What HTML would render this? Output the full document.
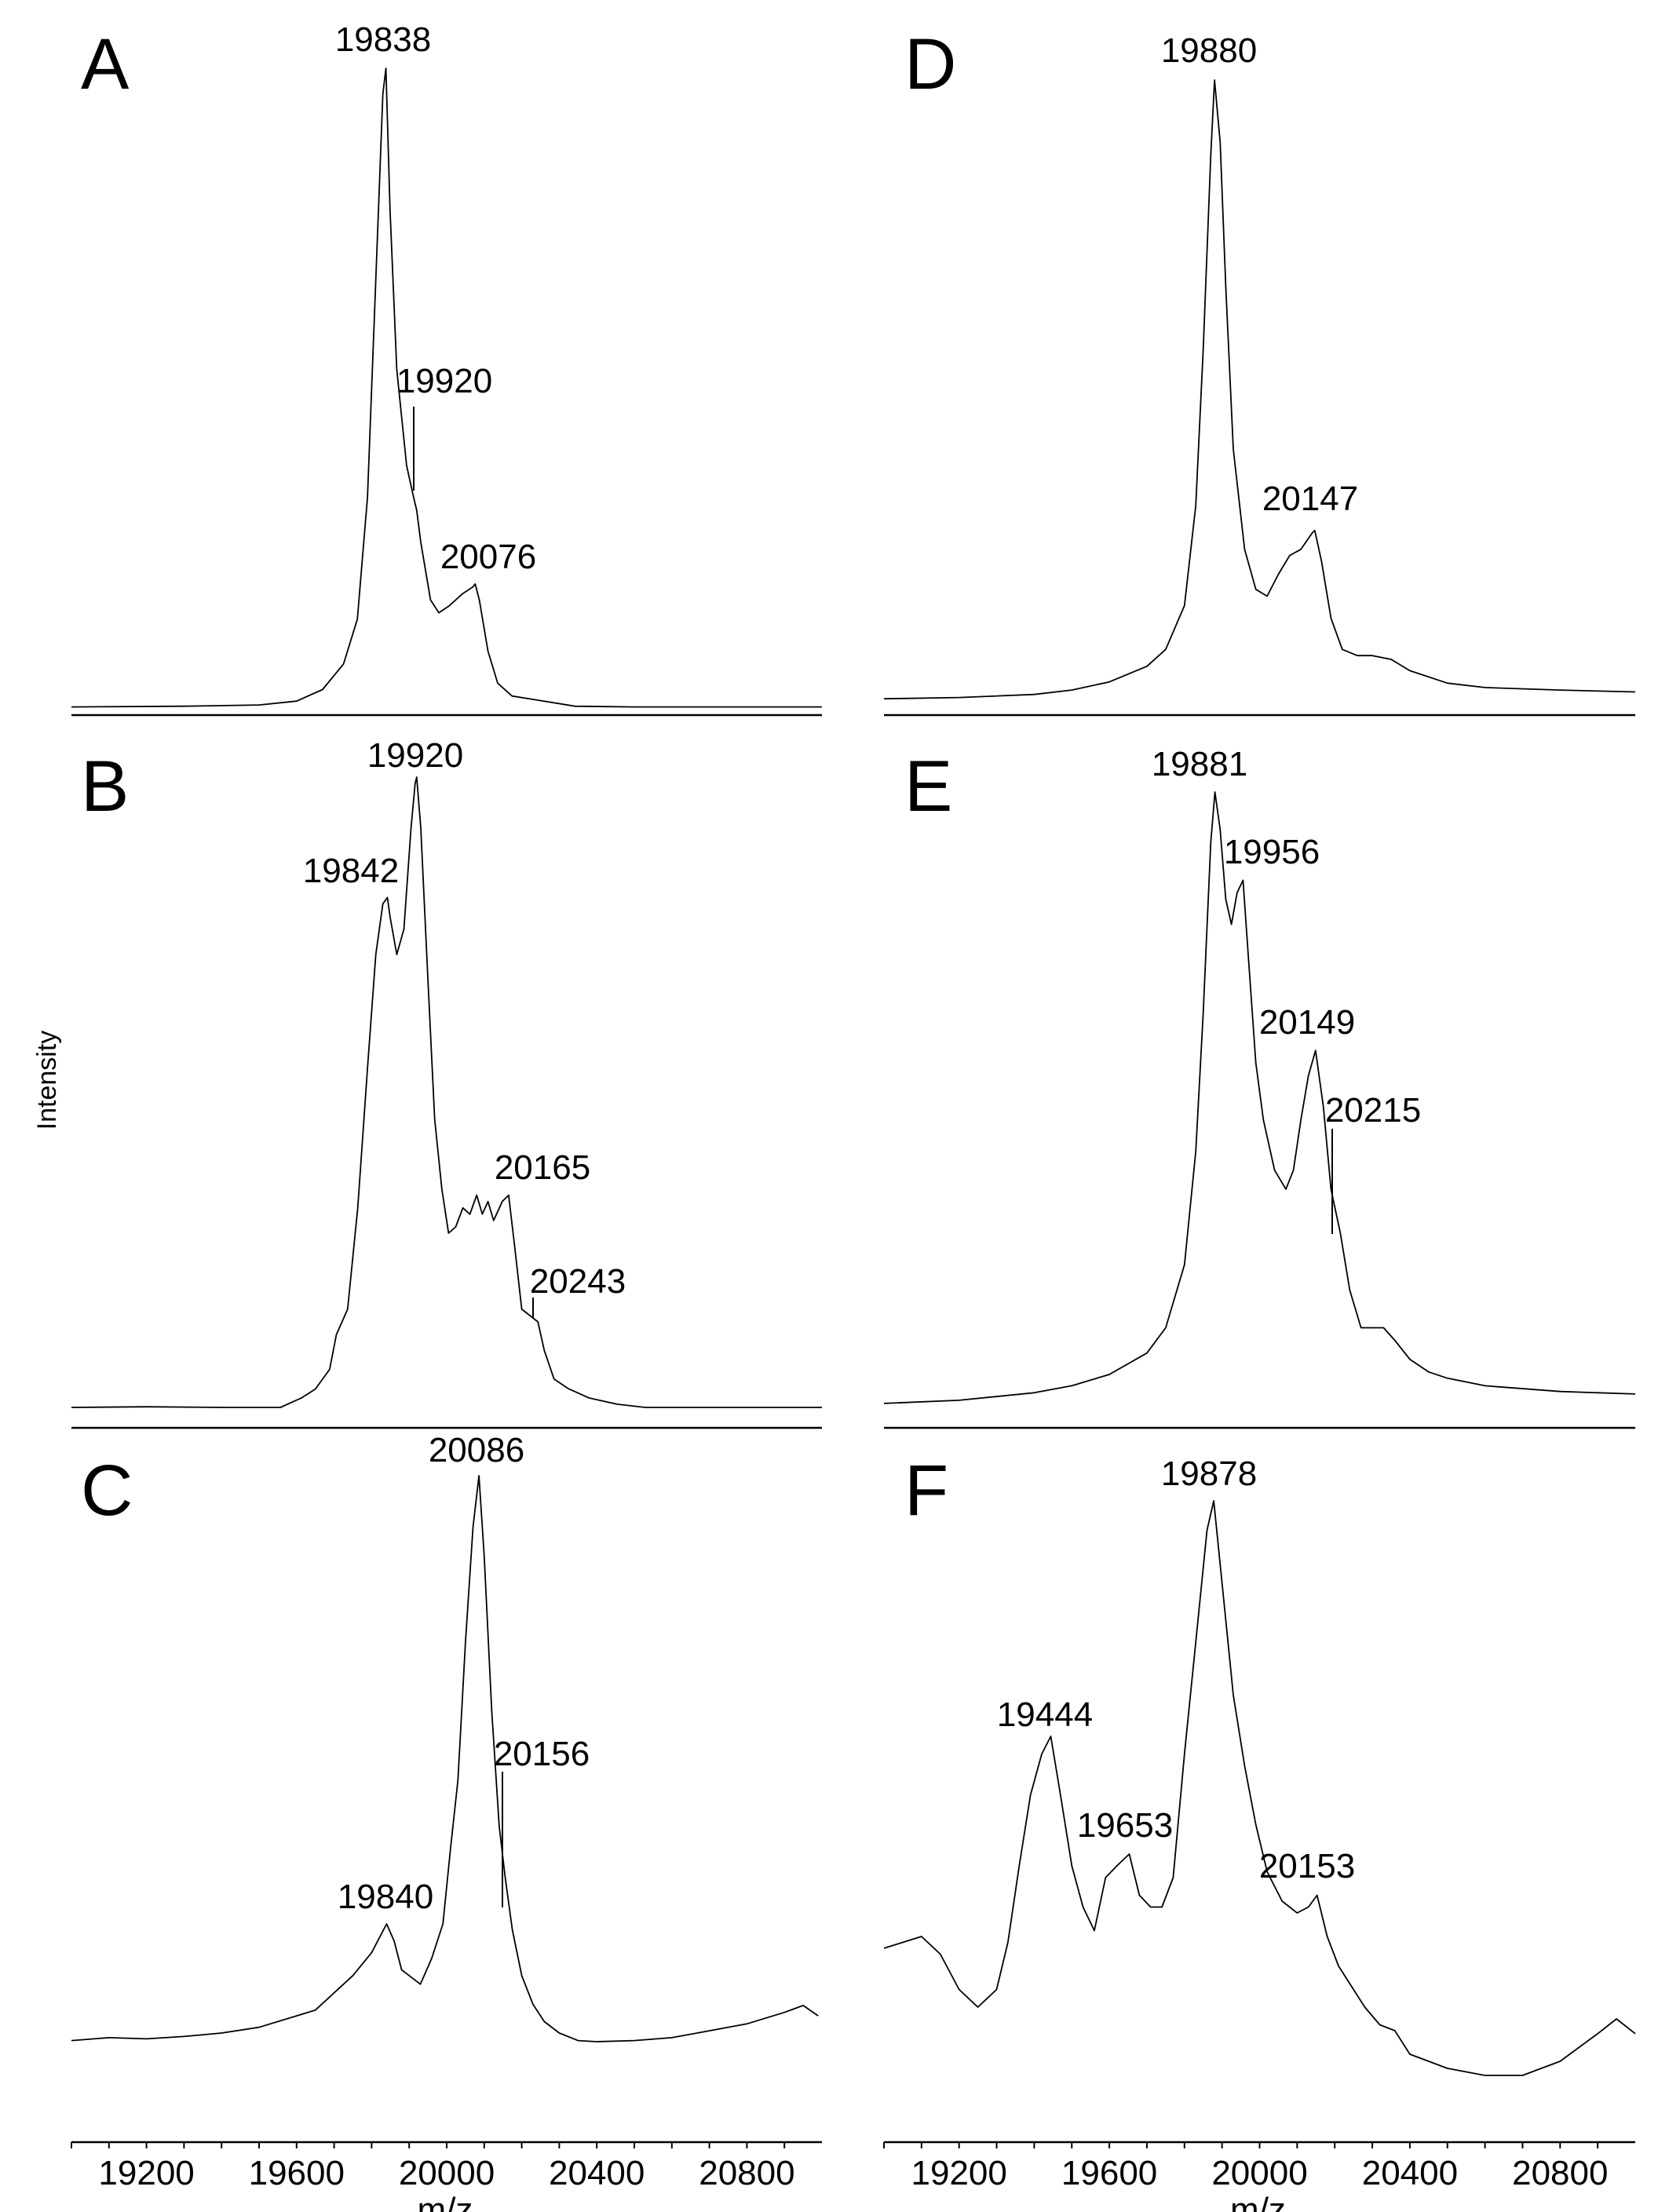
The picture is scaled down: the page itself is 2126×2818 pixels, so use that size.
<!DOCTYPE html>
<html><head><meta charset="utf-8"><style>
html,body{margin:0;padding:0;background:#fff}
svg{display:block}
text{font-family:"Liberation Sans",Arial,sans-serif;fill:#000}
</style></head><body>
<svg id="fig" width="2126" height="2818" viewBox="0 0 2126 2818" xmlns="http://www.w3.org/2000/svg"></svg>
<script>
const tickLabels = ["19200","19600","20000","20400","20800"];
const tickValues = [19200,19600,20000,20400,20800];
const mzA=[19000,19300,19500,19600,19669,19725,19762,19789,19811,19830,19838,19849,19867,19893,19912,19920,19931,19957,19979,20005,20043,20069,20076,20087,20110,20136,20174,20248,20342,20500,20700,21000];
const inA=[0.3,0.4,0.6,1.2,3,7,14,33,67,96,100,78,53,38,33,31,26,17,15,16,18,19,19.5,17,9,4,2,1.3,0.4,0.3,0.3,0.3];
const mzB=[19000,19200,19400,19557,19613,19650,19688,19706,19736,19763,19789,19811,19830,19842,19849,19867,19886,19905,19916,19920,19931,19950,19968,19987,20005,20024,20043,20062,20080,20095,20110,20125,20148,20165,20181,20200,20222,20243,20260,20286,20323,20379,20454,20529,20700,21000];
const inB=[0.5,0.6,0.5,0.5,2,3.4,6.5,12,16,32,54,72,80,81,78,72,76,92,99,100,92,68,46,35,28,29,32,31,34,31,33,30,33,34,26,16,15,14,9.5,5,3.5,2,1,0.5,0.5,0.5];
const mzC=[19000,19100,19200,19300,19400,19500,19600,19650,19700,19750,19800,19840,19860,19880,19900,19930,19960,19990,20010,20030,20050,20070,20086,20100,20120,20140,20156,20175,20200,20230,20260,20300,20350,20400,20500,20600,20700,20800,20900,20950,20990];
const inC=[1.7,2.2,2,2.4,3,4,6,7,10,13,17,22,19,14,13,11.5,16,22,35,47,71,91,100,86,59,39,30,21,13,8,5,3,1.7,1.5,1.7,2.2,3.4,4.6,6.6,7.8,6];
const mzD=[19000,19200,19400,19500,19600,19700,19750,19800,19830,19850,19870,19880,19895,19910,19930,19960,19990,20020,20050,20080,20110,20140,20147,20165,20190,20220,20260,20300,20350,20400,20500,20600,20800,21000];
const inD=[1.1,1.3,1.8,2.5,3.8,6.3,9,16,32,57,88,100,90,67,41,25,18.6,17.5,21,24,25,27.6,28,23,14,9,8,8,7.4,5.6,3.6,2.9,2.5,2.2];
const mzE=[19000,19200,19400,19500,19600,19700,19750,19800,19830,19850,19870,19881,19895,19910,19925,19940,19956,19970,19990,20010,20040,20070,20090,20110,20130,20149,20170,20190,20215,20240,20270,20300,20330,20360,20400,20450,20500,20600,20800,21000];
const inE=[3,3.5,4.7,5.8,7.6,11,15,25,43,65,92,100,94,83,79,84,86,74,57,48,40,37,40,48,55,59,50,37,30,21,15,15,15,13,10,8,7,5.8,4.9,4.5];
const mzF=[19000,19050,19100,19150,19200,19250,19300,19330,19360,19390,19420,19444,19470,19500,19530,19560,19590,19620,19653,19680,19710,19740,19770,19800,19830,19860,19878,19900,19930,19960,19990,20020,20060,20100,20130,20153,20180,20210,20240,20280,20320,20360,20400,20500,20600,20700,20800,20900,20950,21000];
const inF=[24,25,26,23,17,14,17,25,38,50,57,60,50,38,31,27,36,38,40,33,31,31,36,57,76,95,100,86,67,55,45,37,32,30,31,33,26,21,18,14,11,10,6,3.6,2.4,2.4,4.8,9.5,12,9.5];

const NS="http://www.w3.org/2000/svg";
const svg=document.getElementById('fig');
function el(tag,attrs,parent){const e=document.createElementNS(NS,tag);for(const k in attrs)e.setAttribute(k,attrs[k]);(parent||svg).appendChild(e);return e;}
const cols=[{x0:91,x1:1047},{x0:1126,x1:2083}];
function xScale(c,mz){return cols[c].x0+(mz-19000)/2000*(cols[c].x1-cols[c].x0);}
function yScale(p,v){return p.y0-(v/100)*(p.y0-p.y100);}
const panels=[
 {id:'A',c:0,mz:mzA,v:inA,y0:903,y100:87,ly:113,labels:[["19838",488,65],["19920",566,500],["20076",622,724]],leaders:[[527,518,625]]},
 {id:'B',c:0,mz:mzB,v:inB,y0:1797,y100:990,ly:1033,labels:[["19920",529,977],["19842",447,1124],["20165",691,1502],["20243",736,1647]],leaders:[[679,1653,1680]]},
 {id:'C',c:0,mz:mzC,v:inC,y0:2612,y100:1880,ly:1930,labels:[["20086",607,1862],["20156",690,2249],["19840",491,2431]],leaders:[[640,2257,2430]]},
 {id:'D',c:1,mz:mzD,v:inD,y0:899,y100:102,ly:113,labels:[["19880",1540,79],["20147",1669,650]],leaders:[]},
 {id:'E',c:1,mz:mzE,v:inE,y0:1812,y100:1009,ly:1033,labels:[["19881",1528,988],["19956",1620,1100],["20149",1665,1317],["20215",1749,1429]],leaders:[[1697,1438,1572]]},
 {id:'F',c:1,mz:mzF,v:inF,y0:2662,y100:1912,ly:1930,labels:[["19878",1540,1892],["19444",1331,2199],["19653",1433,2340],["20153",1665,2392]],leaders:[]}
];
panels.forEach(p=>{
  const g=el('g',{});
  
  
  const lx=p.c===0?103:1152;
  const t=el('text',{x:lx,y:p.ly,'font-size':92},g);t.textContent=p.id;
  
  
  let d='';
  p.mz.forEach((m,i)=>{d+=(i?'L':'M')+xScale(p.c,m).toFixed(1)+','+yScale(p,p.v[i]).toFixed(1);});
  const path=el('path',{d:d,fill:'none',stroke:'#000','stroke-width':1.8,'stroke-linejoin':'round'},g);
  
  
  p.labels.forEach(l=>{
    const tx=el('text',{x:l[1],y:l[2],'font-size':44,'text-anchor':'middle'},g);tx.textContent=l[0];
    
    
  });
  p.leaders.forEach(L=>{
    const ln=el('line',{x1:L[0],x2:L[0],y1:L[1],y2:L[2],stroke:'#000','stroke-width':2},g);
    
    
  });
});
[911,1819].forEach(y=>{cols.forEach(c=>{
  const ln=el('line',{x1:c.x0,x2:c.x1,y1:y,y2:y,stroke:'#000','stroke-width':2.5});
  
  
});});
cols.forEach((c,ci)=>{
  const ax=el('line',{x1:c.x0,x2:c.x1,y1:2729,y2:2729,stroke:'#000','stroke-width':2.5});
  
  
  for(let m=19000;m<=20900;m+=100){
    const x=xScale(ci,m);
    const tk=el('line',{x1:x,x2:x,y1:2729,y2:2737,stroke:'#000','stroke-width':2});
    
    
  }
  tickValues.forEach((v,i)=>{
    const t=el('text',{x:xScale(ci,v),y:2783,'font-size':44,'text-anchor':'middle'});
    t.textContent=tickLabels[i];
    
    
  });
  const mt=el('text',{x:xScale(ci,20000)-2,y:2830,'font-size':44,'text-anchor':'middle'});
  mt.textContent='m/z';
  
  
});
const yl=el('text',{x:0,y:0,'font-size':34,'text-anchor':'middle',transform:'translate(71,1376) rotate(-90)'});
yl.textContent='Intensity';


</script>
</body></html>
